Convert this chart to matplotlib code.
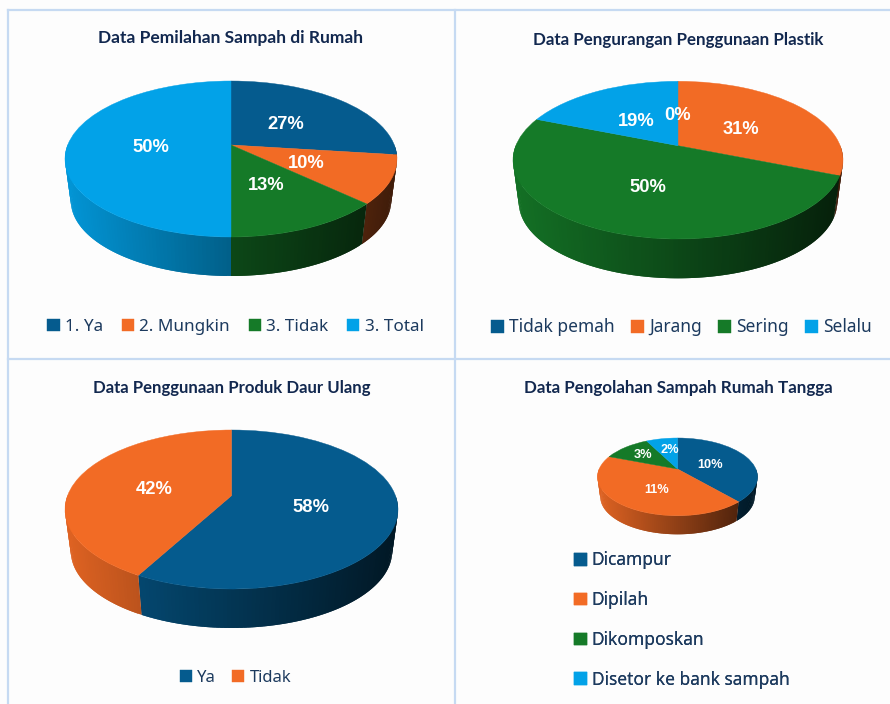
import numpy as np
import matplotlib
matplotlib.use('Agg')
import matplotlib.pyplot as plt
from matplotlib.collections import PolyCollection
from matplotlib.transforms import Transform

# data
titles = ['Data Pemilahan Sampah di Rumah', 'Data Pengurangan Penggunaan Plastik',
          'Data Penggunaan Produk Daur Ulang', 'Data Pengolahan Sampah Rumah Tangga']
cat1 = ['1. Ya', '2. Mungkin', '3. Tidak', '3. Total']
val1 = [27, 10, 13, 50]
cat2 = ['Tidak pemah', 'Jarang', 'Sering', 'Selalu']
val2 = [0, 31, 50, 19]
cat3 = ['Ya', 'Tidak']
val3 = [58, 42]
cat4 = ['Dicampur', 'Dipilah', 'Dikomposkan', 'Disetor ke bank sampah']
val4 = [10, 11, 3, 2]
colors = ['#055B8E', '#F26B25', '#157A28', '#02A2E8']

W, H = 890, 704
TITLE_C = '#12284F'
LEG_C = '#1C3A5E'
BORDER = '#C6DAF2'
TITLE_FONT = 'Lato'
LEG_FONT = 'Noto Sans'
LABEL_FONT = 'Liberation Sans'


class Persp(Transform):
    # unit circle -> tilted disc in pixel coords (y down)
    input_dims = 2
    output_dims = 2

    def __init__(self, cx, cy, r, up, down):
        super().__init__()
        self.cx, self.cy = cx, cy
        self.b = (down - up) / (down + up)
        self.a = up * (1 + self.b)
        self.c = r * np.sqrt(1 - self.b**2)

    def transform_non_affine(self, xy):
        xy = np.asarray(xy, dtype=float)
        w = 1 + self.b * xy[:, 1]
        return np.column_stack([self.cx + self.c * xy[:, 0] / w,
                                self.cy - self.a * xy[:, 1] / w])


fig = plt.figure(figsize=(W / 100, H / 100), dpi=100, facecolor='#FDFDFD')
ax = fig.add_axes([0, 0, 1, 1])


def draw_pie(values, cats, title, tx, ty, cx, cy, r, top, bot, wall, lab_xy, lab_fs,
             leg_xy, leg_loc='center', ncol=4, leg_fs=12, colspace=1.2, labspace=0.5, tsize=12.5):
    p = Persp(cx, cy, r, cy - top, bot - cy)
    wedges, _ = ax.pie(values, colors=colors[:len(values)], startangle=90, counterclock=False)
    for w in wedges:
        w.set_transform(p + ax.transData)
        w.set_zorder(2)
        w.set_edgecolor(w.get_facecolor())
        w.set_linewidth(0.3)

    # side wall, shaded from left to right
    k = 0.965
    drop = wall - cy - (bot - cy) * k
    fr = np.cumsum([0] + list(values)) / sum(values)
    quads, fcs = [], []
    for i in range(len(values)):
        if values[i] == 0:
            continue
        n = max(int((fr[i + 1] - fr[i]) * 300), 2)
        ang = np.linspace(fr[i], fr[i + 1], n + 1) * 2 * np.pi
        pts = p.transform_non_affine(np.column_stack([np.sin(ang), np.cos(ang)]))
        low = np.column_stack([cx + (pts[:, 0] - cx) * k, cy + (pts[:, 1] - cy) * k + drop])
        base = np.array(matplotlib.colors.to_rgb(colors[i]))
        for j in range(n):
            if np.cos((ang[j] + ang[j + 1]) / 2) > 0:
                continue
            # each strip runs over into the next one so no seams show
            e = min(j + 2, n)
            quads.append([pts[j], pts[e], low[e], low[j]])
            t = ((pts[j, 0] + pts[j + 1, 0]) / 2 - (cx - r)) / (2 * r)
            fcs.append(base * (0.92 - 0.66 * t))
    ax.add_collection(PolyCollection(quads, facecolors=fcs, edgecolors='none', linewidths=0, zorder=1))

    for v, (lx, ly) in zip(values, lab_xy):
        ax.text(lx, ly, f'{v}%', color='white', fontsize=lab_fs, fontweight='bold',
                family=LABEL_FONT, ha='center', va='center', zorder=3)
    ax.text(tx, ty, title, color=TITLE_C, fontsize=tsize, fontweight='bold', family=TITLE_FONT,
            ha='center', va='center')

    leg = ax.legend(wedges, cats, loc=leg_loc, bbox_to_anchor=leg_xy, bbox_transform=ax.transData,
                    ncol=ncol, frameon=False, borderpad=0, borderaxespad=0,
                    handlelength=0.72, handleheight=0.72, handletextpad=0.3,
                    columnspacing=colspace, labelspacing=labspace,
                    prop=dict(family=LEG_FONT, size=leg_fs), labelcolor=LEG_C)
    ax.add_artist(leg)


draw_pie(val1, cat1, titles[0], 231, 38, 231, 145, 166, 81, 237, 276,
         [(286, 124.5), (306, 163), (266, 186), (151, 148)], 13.2, (235.5, 327),
         leg_fs=12.3, colspace=1.1)
draw_pie(val2, cat2, titles[1], 678.5, 39.5, 678, 145.7, 165, 81.3, 239, 278.3,
         [(678, 115), (740.7, 130), (647.7, 187.5), (636, 121)], 13.2, (681.5, 327.5),
         leg_fs=12.5, colspace=0.95, tsize=12.2)
draw_pie(val3, cat3, titles[2], 231.5, 388, 231.5, 495.7, 166.5, 430, 589, 628,
         [(311, 507.7), (154, 489)], 13.2, (235.5, 677.5), ncol=2, colspace=1.0, tsize=12.1)
draw_pie(val4, cat4, titles[3], 678, 388, 677.5, 469, 80, 438, 515.7, 534.3,
         [(710, 465), (657, 490), (643, 455), (670, 450)], 9.2, (574, 620),
         leg_loc='center left', ncol=1, leg_fs=12.5, labspace=1.25, tsize=12.25)

# panel borders
for xs, ys in [((8, 8), (10, 704)), ((8, 890), (10, 10)), ((8, 890), (359, 359)), ((455, 455), (10, 704))]:
    ax.plot(xs, ys, color=BORDER, lw=1.6, zorder=0)

ax.set_aspect('auto')
ax.set_xlim(0, W)
ax.set_ylim(H, 0)
ax.axis('off')
fig.savefig('out.png', dpi=100, facecolor=fig.get_facecolor())
